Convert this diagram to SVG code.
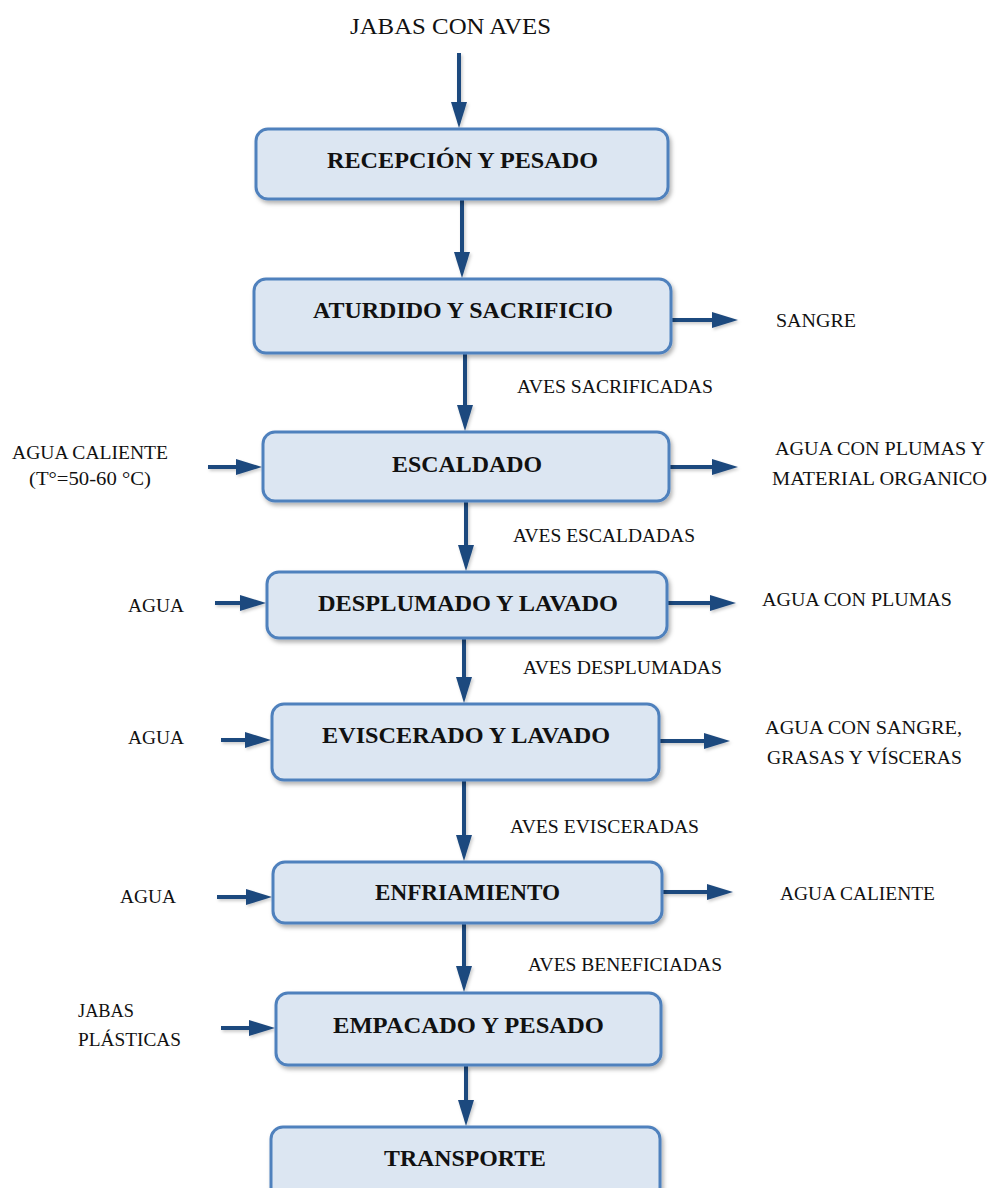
<svg xmlns="http://www.w3.org/2000/svg" width="989" height="1188" viewBox="0 0 989 1188">
  <defs>
    <!-- arrowhead starts where the shaft ends; 26px long, 16px wide -->
    <marker id="ah" viewBox="0 0 26 16" refX="0" refY="8" markerWidth="26" markerHeight="16" markerUnits="userSpaceOnUse" orient="auto" overflow="visible">
      <path d="M0,0 L26,8 L0,16 Z" fill="#1f4a7e"/>
    </marker>
    <filter id="sh" x="-5%" y="-20%" width="115%" height="150%">
      <feDropShadow dx="2" dy="3" stdDeviation="2" flood-color="#000" flood-opacity="0.3"/>
    </filter>
    <filter id="ash" x="-20%" y="-20%" width="140%" height="140%">
      <feDropShadow dx="1.5" dy="2" stdDeviation="1.5" flood-color="#000" flood-opacity="0.2"/>
    </filter>
    <style>
      .box rect { fill: #dce6f2; stroke: #4f81bd; stroke-width: 3; filter: url(#sh); }
      .box text { font-family: "Liberation Serif", "DejaVu Serif", serif; font-weight: bold; font-size: 23px; fill: #111; text-anchor: start; }
      .lbl { font-family: "Liberation Serif", "DejaVu Serif", serif; font-size: 18px; fill: #111; }
      .big { font-size: 24px; }
      #connectors { filter: url(#ash); }
      #connectors line { stroke: #1f4a7e; stroke-width: 4; marker-end: url(#ah); }
    </style>
  </defs>
  <rect width="989" height="1188" fill="#fff"/>

  <!-- connectors (shaft ends 26px short of the tip) -->
  <g id="connectors">
    <line x1="459" y1="53" x2="459" y2="102"/>
    <line x1="462" y1="200" x2="462" y2="252"/>
    <line x1="465" y1="354" x2="465" y2="405"/>
    <line x1="466" y1="502" x2="466" y2="545"/>
    <line x1="464" y1="639" x2="464" y2="677"/>
    <line x1="464" y1="781" x2="464" y2="835"/>
    <line x1="464" y1="924" x2="464" y2="966"/>
    <line x1="466" y1="1066" x2="466" y2="1100"/>
    <!-- outputs -->
    <line x1="672" y1="320" x2="712" y2="320"/>
    <line x1="670" y1="467" x2="712" y2="467"/>
    <line x1="668" y1="603" x2="710" y2="603"/>
    <line x1="660" y1="741" x2="704" y2="741"/>
    <line x1="663" y1="892" x2="707" y2="892"/>
    <!-- inputs -->
    <line x1="208" y1="467" x2="236" y2="467"/>
    <line x1="215" y1="603" x2="240" y2="603"/>
    <line x1="221" y1="740" x2="245" y2="740"/>
    <line x1="217" y1="897" x2="246" y2="897"/>
    <line x1="221" y1="1028" x2="249" y2="1028"/>
  </g>

  <!-- process steps -->
  <g id="recepcion" class="box">
    <rect x="256" y="129" width="412" height="70" rx="12"/>
    <text x="327" y="168" textLength="271" lengthAdjust="spacingAndGlyphs">RECEPCIÓN Y PESADO</text>
  </g>
  <g id="aturdido" class="box">
    <rect x="254" y="279" width="417" height="74" rx="12"/>
    <text x="313" y="318" textLength="300" lengthAdjust="spacingAndGlyphs">ATURDIDO Y SACRIFICIO</text>
  </g>
  <g id="escaldado" class="box">
    <rect x="263" y="432" width="406" height="69" rx="12"/>
    <text x="392" y="472" textLength="150" lengthAdjust="spacingAndGlyphs">ESCALDADO</text>
  </g>
  <g id="desplumado" class="box">
    <rect x="267" y="572" width="400" height="66" rx="12"/>
    <text x="318" y="611" textLength="300" lengthAdjust="spacingAndGlyphs">DESPLUMADO Y LAVADO</text>
  </g>
  <g id="eviscerado" class="box">
    <rect x="272" y="704" width="387" height="76" rx="12"/>
    <text x="322" y="743" textLength="288" lengthAdjust="spacingAndGlyphs">EVISCERADO Y LAVADO</text>
  </g>
  <g id="enfriamiento" class="box">
    <rect x="273" y="862" width="389" height="61" rx="12"/>
    <text x="375" y="900" textLength="185" lengthAdjust="spacingAndGlyphs">ENFRIAMIENTO</text>
  </g>
  <g id="empacado" class="box">
    <rect x="276" y="993" width="385" height="72" rx="12"/>
    <text x="333" y="1033" textLength="271" lengthAdjust="spacingAndGlyphs">EMPACADO Y PESADO</text>
  </g>
  <g id="transporte" class="box">
    <rect x="271" y="1127" width="389" height="75" rx="12"/>
    <text x="384" y="1166" textLength="162" lengthAdjust="spacingAndGlyphs">TRANSPORTE</text>
  </g>

  <!-- flow labels -->
  <g id="labels">
    <text class="lbl big" x="350" y="34" textLength="201" lengthAdjust="spacingAndGlyphs">JABAS CON AVES</text>
    <text class="lbl" x="776" y="327" textLength="80" lengthAdjust="spacingAndGlyphs">SANGRE</text>
    <text class="lbl" x="517" y="393" textLength="196" lengthAdjust="spacingAndGlyphs">AVES SACRIFICADAS</text>
    <text class="lbl" x="12" y="459" textLength="156" lengthAdjust="spacingAndGlyphs">AGUA CALIENTE</text>
    <text class="lbl" x="29" y="485" textLength="122" lengthAdjust="spacingAndGlyphs">(T°=50-60 °C)</text>
    <text class="lbl" x="775" y="455" textLength="210" lengthAdjust="spacingAndGlyphs">AGUA CON PLUMAS Y</text>
    <text class="lbl" x="772" y="485" textLength="215" lengthAdjust="spacingAndGlyphs">MATERIAL ORGANICO</text>
    <text class="lbl" x="513" y="542" textLength="182" lengthAdjust="spacingAndGlyphs">AVES ESCALDADAS</text>
    <text class="lbl" x="128" y="612" textLength="56" lengthAdjust="spacingAndGlyphs">AGUA</text>
    <text class="lbl" x="762" y="606" textLength="190" lengthAdjust="spacingAndGlyphs">AGUA CON PLUMAS</text>
    <text class="lbl" x="523" y="674" textLength="199" lengthAdjust="spacingAndGlyphs">AVES DESPLUMADAS</text>
    <text class="lbl" x="128" y="744" textLength="56" lengthAdjust="spacingAndGlyphs">AGUA</text>
    <text class="lbl" x="765" y="734" textLength="197" lengthAdjust="spacingAndGlyphs">AGUA CON SANGRE,</text>
    <text class="lbl" x="767" y="764" textLength="195" lengthAdjust="spacingAndGlyphs">GRASAS Y VÍSCERAS</text>
    <text class="lbl" x="510" y="833" textLength="189" lengthAdjust="spacingAndGlyphs">AVES EVISCERADAS</text>
    <text class="lbl" x="120" y="903" textLength="56" lengthAdjust="spacingAndGlyphs">AGUA</text>
    <text class="lbl" x="780" y="900" textLength="155" lengthAdjust="spacingAndGlyphs">AGUA CALIENTE</text>
    <text class="lbl" x="528" y="971" textLength="194" lengthAdjust="spacingAndGlyphs">AVES BENEFICIADAS</text>
    <text class="lbl" x="78" y="1017" textLength="56" lengthAdjust="spacingAndGlyphs">JABAS</text>
    <text class="lbl" x="78" y="1046" textLength="103" lengthAdjust="spacingAndGlyphs">PLÁSTICAS</text>
  </g>
</svg>
